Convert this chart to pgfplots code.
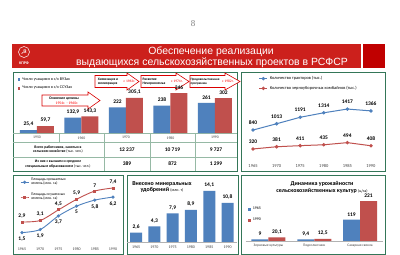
\documentclass[border=0pt]{standalone}
\usepackage{fontspec}
\setmainfont{Carlito}
\newfontfamily\headfont{Liberation Sans}
\newfontfamily\numfont{Liberation Serif}
\newfontfamily\symfont{DejaVu Sans}
\usepackage{pgfplots}
\pgfplotsset{compat=1.18}
\definecolor{cblue}{RGB}{79,129,189}
\definecolor{cred}{RGB}{192,80,77}
\definecolor{hred}{RGB}{204,32,28}
\definecolor{hred2}{RGB}{192,0,0}
\definecolor{pgreen}{RGB}{52,118,88}
\definecolor{tline}{RGB}{150,185,165}
\newcommand{\fs}[1]{\fontsize{#1}{#1}\selectfont}
\newcommand{\fsl}[1]{\fontsize{#1}{1.15\dimexpr#1pt\relax}\selectfont}
\pgfkeys{/pgf/number format/.cd, assume math mode=true, use comma, 1000 sep={}, fixed, precision=1}
\pgfplotsset{
  every axis/.append style={scale only axis, anchor=south west, axis line style={draw=none},
    major tick length=0pt, ytick=\empty, tick label style={font=\fs{4}, text=black!75},
    clip=false},
  vlab/.style={nodes near coords, every node near coord/.append style={font=\bfseries\fs{5.5}, text=black}},
  sqleg/.style={legend image code/.code={\fill[##1] (0bp,-1.4bp) rectangle (2.8bp,1.4bp);}},
  lnleg/.style={legend image code/.code={\draw[mark repeat=2,mark phase=2,##1] plot coordinates {(0bp,0bp)(4bp,0bp)(8bp,0bp)};}},
}
\newcommand{\callout}[6]{% x1 x2 x3 yt yb e
  \filldraw[fill=white, draw=red!85!black, line width=0.6bp]
   (#1,#4) -- (#2,#4) -- (#2,#4-#6) -- (#3,{(#4+#5)/2}) -- (#2,#5+#6) -- (#2,#5) -- (#1,#5) -- cycle;}
\begin{document}
\begin{tikzpicture}
\begin{scope}[x=1bp,y=-1bp]
\path[use as bounding box, fill=white] (0,0) rectangle (400,255);
\node[text=gray, font=\numfont\fs{9}] at (193,24) {8};
\fill[hred] (12,44) rectangle (361,68);
\fill[hred2] (363,44) rectangle (385,68);
\draw[white, line width=0.5bp] (24,52) circle[radius=5.5bp];
\node[text=white, font=\symfont\fs{7}] at (24,52) {☭};
\node[text=white, font=\bfseries\fs{4}] at (24,63.5) {КПРФ};
\node[text=white, font=\headfont\fs{10.5}] at (211,51.5) {Обеспечение реализации};
\node[text=white, font=\headfont\fs{10.5}] at (212,63) {выдающихся сельскохозяйственных проектов в РСФСР};
% panels
\draw[pgreen, line width=1bp] (13,72) rectangle (237,171);
\draw[pgreen, line width=1bp] (241,72) rectangle (385,171);
\draw[pgreen, line width=1bp] (13,175) rectangle (123,254);
\draw[pgreen, line width=1bp] (127,175) rectangle (238,254);
\draw[pgreen, line width=1bp] (241,175) rectangle (385,254);
% table
\draw[tline, line width=0.4bp] (13,133) -- (237,133);
\draw[tline, line width=0.4bp] (13,142) -- (237,142);
\draw[tline, line width=0.4bp] (13,157) -- (237,157);
\draw[tline, line width=0.4bp] (59,133) -- (59,142);
\foreach \xx in {104,150,195} \draw[tline, line width=0.4bp] (\xx,133) -- (\xx,171);
\node[font=\bfseries\fsl{3.8}, align=center] at (58,149.5) {Всего работников, занятых в\\сельском хозяйстве {\mdseries(тыс. чел.)}};
\node[font=\bfseries\fsl{3.8}, align=center] at (58,164) {Из них с высшим и средним\\специальным образованием {\mdseries(тыс. чел.)}};
\node[font=\bfseries\fs{5.5}] at (127,149.5) {12 237};
\node[font=\bfseries\fs{5.5}] at (172.5,149.5) {10 719};
\node[font=\bfseries\fs{5.5}] at (216,149.5) {9 727};
\node[font=\bfseries\fs{5.5}] at (127,164) {389};
\node[font=\bfseries\fs{5.5}] at (172.5,164) {872};
\node[font=\bfseries\fs{5.5}] at (216,164) {1 299};
% callouts
\callout{42}{88}{100}{95}{106}{3}
\node[font=\bfseries\fs{3.8}] at (64,98.5) {Освоение целины};
\node[font=\fs{3.8}, text=red] at (67,103) {1954г. - 1960г.};
\callout{95}{127}{139}{75.5}{87.5}{2.5}
\node[font=\bfseries\fsl{3.6}, align=left] at (108,81.5) {Химизация и\\мелиорация};
\node[font=\fs{3.6}, text=red] at (129.5,81) {с 1963г.};
\callout{141}{176}{189}{75.5}{87.5}{2.5}
\node[font=\bfseries\fsl{3.6}, align=left] at (154,81.5) {Развитие\\Нечерноземья};
\node[font=\fs{3.6}, text=red] at (177,81) {с 1974г.};
\callout{190}{225}{240}{75.5}{87.5}{2.5}
\node[font=\bfseries\fsl{3.3}, align=left] at (205,81.5) {Продовольственная\\программа};
\node[font=\fs{3.6}, text=red] at (228,81) {с 1982г.};
% titles bottom
\node[font=\bfseries\fsl{6}, align=center] at (162,187) {Внесено минеральных\\удобрений {\mdseries\fs{4}(млн. т)}};
\node[font=\bfseries\fsl{6}, align=center] at (322,187.5) {Динамика урожайности\\сельскохозяйственных культур {\mdseries\fs{4}(ц/га)}};
\end{scope}

% top-left bar chart
\begin{axis}[at={(14.75bp,-133bp)}, width=222.5bp, height=46.2bp,
  xmin=-0.5, xmax=4.5, ymin=0, ymax=400, ybar=0pt, bar width=17bp,
  xtick=data, xticklabels={1950,1960,1970,1980,1990}, tick label style={font=\fs{3.8}},
  vlab, sqleg,
  legend style={at={(0.012,1.255)}, anchor=north west, draw=none, fill=none, font=\fs{4.1}, inner sep=0pt, row sep=0.6bp, cells={anchor=west}}]
\addplot[fill=cblue, draw=none] coordinates {(0,25.4) (1,132.9) (2,222) (3,238) (4,261)};
\addplot[fill=cred, draw=none] coordinates {(0,59.7) (1,143.3) (2,305.1) (3,346) (4,302)};
\legend{Число учащихся в с/х ВУЗах, Число учащихся в с/х ССУЗах}
\end{axis}

% top-right line chart
\begin{axis}[at={(243.6bp,-160.6bp)}, width=136.8bp, height=65.5bp,
  xmin=1963, xmax=1992, ymin=0, ymax=1800, xtick={1965,1970,...,1990},
  tick label style={font=\fs{4.5}}, vlab, lnleg,
  every node near coord/.append style={yshift=1.5bp},
  legend style={at={(0.11,1.32)}, anchor=north west, draw=none, fill=none, font=\fs{4.4}, inner sep=0pt, row sep=1bp, cells={anchor=west}}]
\addplot[cblue, line width=1bp, mark=*, mark size=1.2bp] coordinates {(1965,840) (1970,1013) (1975,1191) (1980,1314) (1985,1417) (1990,1366)};
\addplot[cred, line width=1bp, mark=*, mark size=1.2bp] coordinates {(1965,320) (1970,381) (1975,411) (1980,435) (1985,494) (1990,408)};
\legend{Количество тракторов (тыс.), Количество зерноуборочных комбайнов (тыс.)}
\end{axis}

% bottom-left line chart
\begin{axis}[at={(14.7bp,-243.9bp)}, width=105.6bp, height=68bp,
  xmin=1963, xmax=1992, ymin=0, ymax=9, xtick={1965,1970,...,1990},
  tick label style={font=\fs{4}}, lnleg,
  legend style={at={(0.05,1.0)}, anchor=north west, draw=none, fill=none, font=\fsl{3.8}, inner sep=0pt, row sep=2.5bp, cells={anchor=west, align=left}}]
\addplot[cblue, line width=0.9bp, smooth, mark=*, mark size=1.1bp, vlab,
  every node near coord/.append style={anchor=north, yshift=-0.5bp}] coordinates {(1965,1.5) (1970,1.9) (1975,3.7) (1980,5) (1985,5.8) (1990,6.2)};
\addplot[cred, line width=0.9bp, smooth, mark=square*, mark size=1bp, vlab] coordinates {(1965,2.9) (1970,3.1) (1975,4.5) (1980,5.9) (1985,7) (1990,7.4)};
\legend{Площадь орошаемых\\земель (млн. га), Площадь осушенных\\земель (млн. га)}
\end{axis}

% bottom-middle bar chart
\begin{axis}[at={(126.9bp,-242bp)}, width=109.8bp, height=57.9bp,
  xmin=-0.5, xmax=5.5, ymin=0, ymax=16, ybar, bar width=12bp,
  xtick=data, xticklabels={1965,1970,1975,1980,1985,1990}, vlab]
\addplot[fill=cblue, draw=none] coordinates {(0,2.6) (1,4.3) (2,7.9) (3,8.9) (4,14.1) (5,10.8)};
\draw[gray!60, line width=0.4bp] (rel axis cs:0,0) -- (rel axis cs:1,0);
\end{axis}

% bottom-right grouped bars
\begin{axis}[at={(245.6bp,-241bp)}, width=137.3bp, height=54bp,
  xmin=-0.5, xmax=2.5, ymin=0, ymax=300, ybar=0pt, bar width=17bp,
  xtick=data, xticklabels={Зерновые культуры, Подсолнечник, Сахарная свекла},
  tick label style={font=\fs{3.6}}, vlab, sqleg,
  legend style={at={(0.017,0.667)}, anchor=north west, draw=none, fill=none, font=\fs{4}, inner sep=0pt, row sep=3bp, cells={anchor=west}}]
\addplot[fill=cblue, draw=none] coordinates {(0,9) (1,9.4) (2,119)};
\addplot[fill=cred, draw=none] coordinates {(0,20.1) (1,12.5) (2,221)};
\draw[gray!60, line width=0.4bp] (rel axis cs:0,0) -- (rel axis cs:1,0);
\legend{1965, 1990}
\end{axis}
\end{tikzpicture}
\end{document}
